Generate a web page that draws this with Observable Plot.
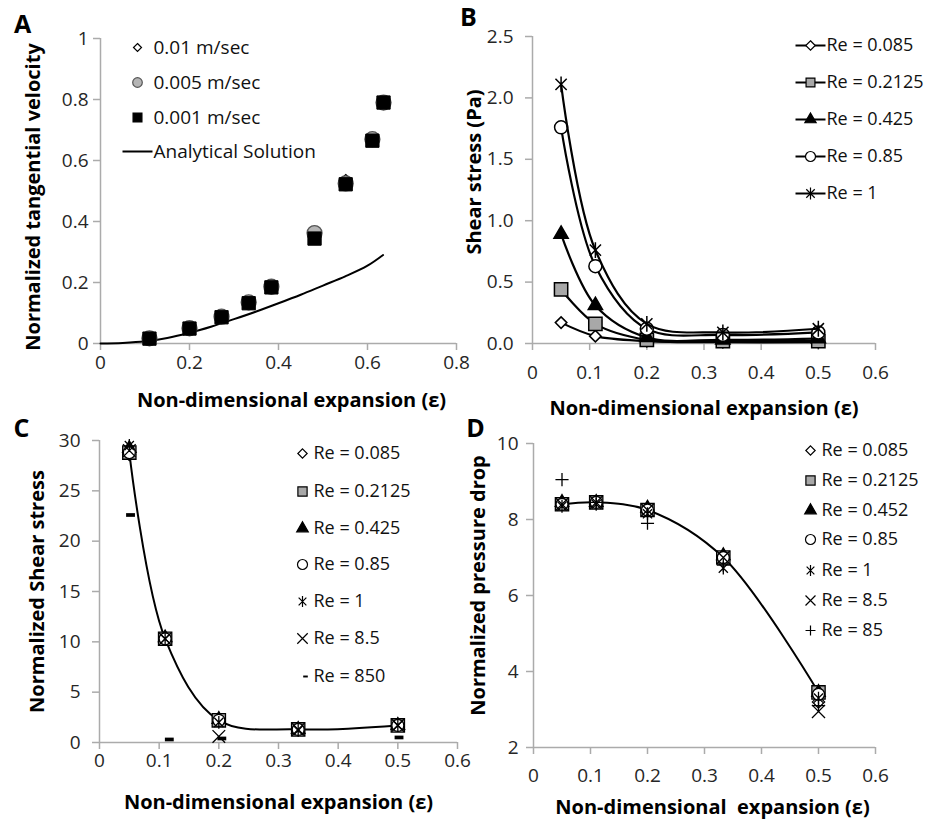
<!DOCTYPE html>
<html>
<head>
<meta charset="utf-8">
<script src="https://cdn.jsdelivr.net/npm/d3@7"></script>
<script src="https://cdn.jsdelivr.net/npm/@observablehq/plot@0.6"></script>
<style>
  body { margin: 0; background: #fff; }
  #fig { position: relative; width: 926px; height: 819px; background: #fff; overflow: hidden; }
  #fig svg { position: absolute; left: 0; top: 0; overflow: visible; }
</style>
</head>
<body>
<div id="fig"></div>
<script>
// ---------------- Panel A data ----------------
const aX      = [0.11, 0.2, 0.272, 0.333, 0.384, 0.481, 0.551, 0.611, 0.636];
const aV010   = [0.017, 0.050, 0.088, 0.135, 0.186, 0.350, 0.532, 0.670, 0.790]; // 0.01 m/sec
const aV005   = [0.017, 0.050, 0.088, 0.135, 0.186, 0.362, 0.525, 0.670, 0.790]; // 0.005 m/sec
const aV001   = [0.016, 0.049, 0.086, 0.132, 0.184, 0.344, 0.522, 0.665, 0.790]; // 0.001 m/sec
const aAnalX  = [0, 0.05, 0.1, 0.15, 0.2, 0.25, 0.3, 0.35, 0.4, 0.45, 0.5, 0.55, 0.6, 0.635];
const aAnalY  = [0, 0.002, 0.007, 0.018, 0.035, 0.056, 0.080, 0.105, 0.132, 0.160, 0.190, 0.220, 0.255, 0.290];
const aXTicks = [0, 0.2, 0.4, 0.6, 0.8];
const aYTicks = [0, 0.2, 0.4, 0.6, 0.8, 1];
const aLegend = ["0.01 m/sec", "0.005 m/sec", "0.001 m/sec", "Analytical Solution"];

// ---------------- Panel B data ----------------
const bX       = [0.05, 0.11, 0.2, 0.333, 0.5];
const bRe0085  = [0.17, 0.06, 0.02, 0.01, 0.01];
const bRe02125 = [0.44, 0.16, 0.03, 0.02, 0.02];
const bRe0425  = [0.89, 0.31, 0.05, 0.03, 0.04];
const bRe085   = [1.76, 0.63, 0.12, 0.07, 0.09];
const bRe1     = [2.11, 0.76, 0.16, 0.09, 0.12];
const bXTicks  = [0, 0.1, 0.2, 0.3, 0.4, 0.5, 0.6];
const bYTicks  = [0, 0.5, 1, 1.5, 2, 2.5];
const bLegend  = ["Re = 0.085", "Re = 0.2125", "Re = 0.425", "Re = 0.85", "Re = 1"];

// ---------------- Panel C data ----------------
const cX       = [0.05, 0.11, 0.2, 0.333, 0.5];
const cRe0085  = [28.6, 10.3, 2.3, 1.3, 1.8];
const cRe02125 = [28.8, 10.3, 2.2, 1.3, 1.7];
const cRe0425  = [29.2, 10.4, 2.3, 1.3, 1.7];
const cRe085   = [28.8, 10.3, 2.2, 1.3, 1.7];
const cRe1     = [29.5, 10.3, 2.0, 1.2, 1.7];
const cRe85    = [29.0, 10.3, 0.6, 1.3, 1.7];
const cRe850X  = [0.052, 0.117, 0.205, 0.502];
const cRe850   = [22.6, 0.3, 0.4, 0.5];
const cXTicks  = [0, 0.1, 0.2, 0.3, 0.4, 0.5, 0.6];
const cYTicks  = [0, 5, 10, 15, 20, 25, 30];
const cLegend  = ["Re = 0.085", "Re = 0.2125", "Re = 0.425", "Re = 0.85", "Re = 1", "Re = 8.5", "Re = 850"];

// ---------------- Panel D data ----------------
const dX       = [0.05, 0.11, 0.2, 0.333, 0.5];
const dRe0085  = [8.40, 8.45, 8.25, 7.00, 3.20];
const dRe02125 = [8.40, 8.45, 8.25, 7.00, 3.45];
const dRe0452  = [8.45, 8.45, 8.30, 7.05, 3.45];
const dRe085   = [8.40, 8.45, 8.25, 7.00, 3.40];
const dRe1     = [8.35, 8.40, 8.15, 6.72, 3.30];
const dRe85    = [8.40, 8.45, 8.25, 7.00, 2.95];
const dRe850   = [9.05, 8.45, 7.90, 6.80, 3.10];
const dXTicks  = [0, 0.1, 0.2, 0.3, 0.4, 0.5, 0.6];
const dYTicks  = [2, 4, 6, 8, 10];
const dLegend  = ["Re = 0.085", "Re = 0.2125", "Re = 0.452", "Re = 0.85", "Re = 1", "Re = 8.5", "Re = 85"];

const xTitle = "Non-dimensional expansion (\u03b5)";
const xTitleD = "Non-dimensional  expansion (\u03b5)";

// ---------------- styling ----------------
const W = 926, H = 819;
const FONT = "'Open Sans', Lato, 'DejaVu Sans', sans-serif";
const AXIS = "#ababab";
const TICKTXT = "#262626";
const TICKFS = 19;

const starSym = {draw(ctx, size) {
  const r = Math.sqrt(size) * 0.56, d = r * Math.SQRT1_2;
  ctx.moveTo(-d, -d); ctx.lineTo(d, d);
  ctx.moveTo(-d, d); ctx.lineTo(d, -d);
  ctx.moveTo(0, -r); ctx.lineTo(0, r);
}};
const dashSym = {draw(ctx, size) {
  const w = Math.sqrt(size) * 1.0, h = w * 0.42;
  ctx.rect(-w / 2, -h / 2, w, h);
}};
const lineSym = {draw(ctx) { ctx.moveTo(-15, 0); ctx.lineTo(15, 0); }};

const ST = {
  diamond:  {symbol: "diamond2", fill: "white", stroke: "black"},
  square:   {symbol: "square", fill: "#a8a8a8", stroke: "black"},
  triangle: {symbol: "triangle", fill: "black", stroke: "black"},
  circle:   {symbol: "circle", fill: "white", stroke: "black"},
  star:     {symbol: starSym, fill: "none", stroke: "black"},
  times:    {symbol: "times", fill: "none", stroke: "black"},
  plus:     {symbol: "plus", fill: "none", stroke: "black"},
  dash:     {symbol: dashSym, fill: "black", stroke: "none"},
  gcircle:  {symbol: "circle", fill: "#b5b5b5", stroke: "#555"},
  bsquare:  {symbol: "square", fill: "black", stroke: "black"}
};

const tidy = (xs, ys) => xs.map((x, i) => ({x, y: ys[i]}));
const fmt0 = d => d === 0 ? "0" : String(d);

function axes({xDomain, yDomain, xTicks, yTicks, xFmt = fmt0, yFmt = fmt0, xPad, yPad}) {
  return [
    Plot.ruleX([xDomain[0]], {stroke: AXIS, strokeWidth: 1.5}),
    Plot.ruleY([yDomain[0]], {stroke: AXIS, strokeWidth: 1.5}),
    Plot.axisX({ticks: xTicks, tickFormat: xFmt, tickSize: 7, tickPadding: xPad, stroke: AXIS, strokeWidth: 1.5, color: TICKTXT, fontSize: TICKFS, label: null}),
    Plot.axisY({ticks: yTicks, tickFormat: yFmt, tickSize: 7, tickPadding: yPad, stroke: AXIS, strokeWidth: 1.5, color: TICKTXT, fontSize: TICKFS, label: null})
  ];
}

function titles({letter, letterDx, letterDy, xt, xDx = 0, xDy, yt, yDx, yDy = 0}) {
  return [
    Plot.text([letter], {text: d => d, frameAnchor: "top-left", dx: letterDx, dy: letterDy, fontSize: 25, fontWeight: "bold", fill: "black", lineAnchor: "middle", textAnchor: "middle"}),
    Plot.text([xt], {text: d => d, frameAnchor: "bottom", dx: xDx, dy: xDy, fontSize: 20, fontWeight: "bold", fill: "black", lineAnchor: "middle"}),
    Plot.text([yt], {text: d => d, frameAnchor: "left", dx: yDx, dy: yDy, rotate: -90, fontSize: 20, fontWeight: "bold", fill: "black", lineAnchor: "middle", textAnchor: "middle"})
  ];
}

function series(xs, ys, style, r, opts = {}) {
  const s = ST[style];
  return Plot.dot(tidy(xs, ys), {x: "x", y: "y", symbol: s.symbol, fill: s.fill, stroke: s.stroke, strokeWidth: opts.sw ?? 1.3, r});
}

function legend(labels, styles, {markerDx, textDx, rows, radii, lineSample = [], markerDxs, fontSize = 18}) {
  return labels.flatMap((label, i) => {
    const marks = [];
    const mdx = markerDxs ? markerDxs[i] : markerDx;
    if (lineSample[i]) marks.push(Plot.dot([label], {frameAnchor: "top-left", dx: mdx, dy: rows[i], symbol: lineSym, r: 5, fill: "none", stroke: "black", strokeWidth: 2}));
    const s = ST[styles[i]];
    if (s) marks.push(Plot.dot([label], {frameAnchor: "top-left", dx: mdx, dy: rows[i], symbol: s.symbol, fill: s.fill, stroke: s.stroke, strokeWidth: 1.2, r: radii[i]}));
    marks.push(Plot.text([label], {text: d => d, frameAnchor: "top-left", dx: textDx, dy: rows[i], textAnchor: "start", lineAnchor: "middle", fontSize, fill: "#111"}));
    return marks;
  });
}

const base = {width: W, height: H, style: {fontFamily: FONT, fontSize: "18px", background: "transparent", overflow: "visible"}};

// ---------------- Panel A ----------------
const aXD = [0, 0.8], aYD = [0, 1];
const plotA = Plot.plot({
  ...base,
  marginLeft: 100, marginRight: W - 456, marginTop: 38, marginBottom: H - 343,
  x: {domain: aXD}, y: {domain: aYD},
  marks: [
    ...axes({xDomain: aXD, yDomain: aYD, xTicks: aXTicks, yTicks: aYTicks, xPad: 5, yPad: 5}),
    Plot.line(tidy(aAnalX, aAnalY), {x: "x", y: "y", stroke: "black", strokeWidth: 2, curve: "catmull-rom"}),
    series(aX, aV010, "diamond", 6),
    series(aX, aV005, "gcircle", 7.5),
    series(aX, aV001, "bsquare", 7.5, {sw: 1}),
    ...legend(aLegend, ["diamond", "gcircle", "bsquare", null], {markerDx: 37, textDx: 53, rows: [9, 44, 79, 113], radii: [3.6, 4.8, 5], lineSample: [false, false, false, true], fontSize: 19}),
    ...titles({letter: "A", letterDx: -78, letterDy: -14, xt: xTitle, xDx: 13, xDy: 57, yt: "Normalized tangential velocity", yDx: -67, yDy: 6})
  ]
});

// ---------------- Panel B ----------------
const bXD = [0, 0.6], bYD = [0, 2.5];
const bSeries = [[bRe0085, "diamond", 5.2], [bRe02125, "square", 7.5], [bRe0425, "triangle", 5.3], [bRe085, "circle", 6.5], [bRe1, "star", 8]];
const plotB = Plot.plot({
  ...base,
  marginLeft: 532, marginRight: W - 875, marginTop: 36, marginBottom: H - 343,
  x: {domain: bXD}, y: {domain: bYD},
  marks: [
    ...axes({xDomain: bXD, yDomain: bYD, xTicks: bXTicks, yTicks: bYTicks, yFmt: d3.format(".1f"), xPad: 15, yPad: 12}),
    ...bSeries.flatMap(([ys, st, r]) => [
      Plot.line(tidy(bX, ys), {x: "x", y: "y", stroke: "black", strokeWidth: 2.2, curve: "catmull-rom"}),
      series(bX, ys, st, r, {sw: 1.5})
    ]),
    ...legend(bLegend, ["diamond", "square", "triangle", "circle", "star"], {markerDx: 278, textDx: 294, rows: [9, 46, 83, 120, 157], radii: [4.3, 5, 4.2, 5, 6], lineSample: [true, true, true, true, true]}),
    ...titles({letter: "B", letterDx: -64, letterDy: -19, xt: xTitle, xDx: 0, xDy: 65, yt: "Shear stress (Pa)", yDx: -58, yDy: -18})
  ]
});

// ---------------- Panel C ----------------
const cXD = [0, 0.6], cYD = [0, 30];
const cSeries = [[cRe0085, "diamond", 5.5], [cRe02125, "square", 7.5], [cRe0425, "triangle", 5], [cRe085, "circle", 6], [cRe1, "star", 6.5], [cRe85, "times", 5.8]];
const plotC = Plot.plot({
  ...base,
  marginLeft: 99, marginRight: W - 457, marginTop: 440, marginBottom: H - 742,
  x: {domain: cXD}, y: {domain: cYD},
  marks: [
    ...axes({xDomain: cXD, yDomain: cYD, xTicks: cXTicks, yTicks: cYTicks, xPad: 4, yPad: 12}),
    Plot.line(tidy(cX, cRe02125), {x: "x", y: "y", stroke: "black", strokeWidth: 2, curve: "catmull-rom"}),
    ...cSeries.map(([ys, st, r]) => series(cX, ys, st, r)),
    series(cRe850X, cRe850, "dash", 5),
    ...legend(cLegend, ["diamond", "square", "triangle", "circle", "star", "times", "dash"], {markerDx: 203, markerDxs: [203, 203, 203, 203, 203, 203, 206], textDx: 214, rows: [13, 51, 88, 124, 161, 198, 236], radii: [4.2, 5.2, 4.3, 5, 5.5, 4.8, 2.6]}),
    ...titles({letter: "C", letterDx: -78, letterDy: -12, xt: xTitle, xDx: 0, xDy: 60, yt: "Normalized Shear stress", yDx: -62, yDy: 0})
  ]
});

// ---------------- Panel D ----------------
const dXD = [0, 0.6], dYD = [2, 10];
const dSeries = [[dRe0085, "diamond", 5.5], [dRe02125, "square", 7.5], [dRe0452, "triangle", 5], [dRe085, "circle", 6], [dRe1, "star", 6.5], [dRe85, "times", 6], [dRe850, "plus", 4.3]];
const plotD = Plot.plot({
  ...base,
  marginLeft: 533, marginRight: W - 875, marginTop: 443, marginBottom: H - 747,
  x: {domain: dXD}, y: {domain: dYD},
  marks: [
    ...axes({xDomain: dXD, yDomain: dYD, xTicks: dXTicks, yTicks: dYTicks, xPad: 14, yPad: 8}),
    Plot.line(tidy(dX, dRe02125), {x: "x", y: "y", stroke: "black", strokeWidth: 2, curve: "catmull-rom"}),
    ...dSeries.map(([ys, st, r]) => series(dX, ys, st, r)),
    ...legend(dLegend, ["diamond", "square", "triangle", "circle", "star", "times", "plus"], {markerDx: 277, textDx: 288, rows: [7, 37, 67, 96, 127, 157, 187], radii: [4.2, 5.2, 4.3, 5, 5.5, 4.6, 3.3]}),
    ...titles({letter: "D", letterDx: -58, letterDy: -15, xt: xTitleD, xDx: 8, xDy: 60, yt: "Normalized pressure drop", yDx: -55, yDy: -10})
  ]
});

const fig = document.getElementById("fig");
[plotA, plotB, plotC, plotD].forEach(p => fig.appendChild(p));
</script>
</body>
</html>
